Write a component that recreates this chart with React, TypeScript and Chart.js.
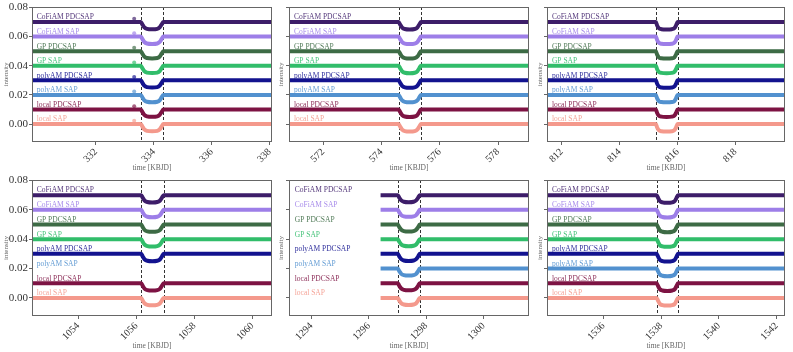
import React, { useEffect, useRef } from 'react';
import { Chart, registerables } from 'chart.js';
Chart.register(...registerables);

const seriesNames = ['local SAP', 'local PDCSAP', 'polyAM SAP', 'polyAM PDCSAP', 'GP SAP', 'GP PDCSAP', 'CoFiAM SAP', 'CoFiAM PDCSAP'];
const seriesOffsets = [0, 0.01, 0.02, 0.03, 0.04, 0.05, 0.06, 0.07];
const seriesColors = ['#f4998c', '#7d1343', '#5291cf', '#13138f', '#31bd6a', '#3d6b45', '#9d7ee8', '#3d1d69'];
const yTicks = [0, 0.02, 0.04, 0.06, 0.08];
const yRange = [-0.0123, 0.0803];

// Panel 1
const p1Range = [329.79, 338.08];
const p1Ticks = [332, 334, 336, 338];
const p1Dashes = [333.55, 334.33];
const p1Time = [329.79, 333.55, 333.6, 333.67, 333.76, 333.94, 334.12, 334.2, 334.27, 334.33, 338.08];
const p1Dip = [0, 0, -0.0016, -0.0037, -0.0047, -0.005, -0.0047, -0.0037, -0.0016, 0, 0];
const p1LabelX = 329.95;
const p1Missing: number[] = [];
const p1OutlierX = 333.32;
const p1OutlierDy = 0.0023;

// Panel 2
const p2Range = [570.83, 579.06];
const p2Ticks = [572, 574, 576, 578];
const p2Dashes = [574.59, 575.35];
const p2Time = [570.83, 574.59, 574.64, 574.71, 574.8, 574.97, 575.14, 575.23, 575.3, 575.35, 579.06];
const p2Dip = [0, 0, -0.0017, -0.0038, -0.0048, -0.0051, -0.0048, -0.0038, -0.0017, 0, 0];
const p2LabelX = 571.0;
const p2Missing: number[] = [];

// Panel 3
const p3Range = [811.49, 819.71];
const p3Ticks = [812, 814, 816, 818];
const p3Dashes = [815.25, 816.0];
const p3Time = [811.49, 815.25, 815.29, 815.35, 815.44, 815.62, 815.8, 815.89, 815.95, 816.0, 819.71];
const p3Dip = [0, 0, -0.0022, -0.0042, -0.0049, -0.0051, -0.0049, -0.0042, -0.0022, 0, 0];
const p3LabelX = 811.66;
const p3Missing: number[] = [];

// Panel 4
const p4Range = [1052.41, 1060.67];
const p4Ticks = [1054, 1056, 1058, 1060];
const p4Dashes = [1056.17, 1056.94];
const p4Time = [1052.41, 1056.17, 1056.22, 1056.29, 1056.38, 1056.55, 1056.72, 1056.81, 1056.88, 1056.94, 1060.67];
const p4Dip = [0, 0, -0.0018, -0.0038, -0.0047, -0.005, -0.0047, -0.0038, -0.0018, 0, 0];
const p4LabelX = 1052.57;
const p4Missing: number[] = [2];

// Panel 5
const p5Range = [1293.22, 1301.58];
const p5Ticks = [1294, 1296, 1298, 1300];
const p5Dashes = [1297.01, 1297.77];
const p5Time = [1296.41, 1297.01, 1297.06, 1297.13, 1297.22, 1297.39, 1297.56, 1297.65, 1297.72, 1297.77, 1301.58];
const p5Dip = [0, 0, -0.0017, -0.0036, -0.0045, -0.0048, -0.0045, -0.0036, -0.0017, 0, 0];
const p5LabelX = 1293.42;
const p5Missing: number[] = [];

// Panel 6
const p6Range = [1534.04, 1542.29];
const p6Ticks = [1536, 1538, 1540, 1542];
const p6Dashes = [1537.84, 1538.58];
const p6Time = [1534.04, 1537.84, 1537.89, 1537.95, 1538.04, 1538.21, 1538.38, 1538.47, 1538.53, 1538.58, 1542.29];
const p6Dip = [0, 0, -0.0019, -0.004, -0.0049, -0.0052, -0.0049, -0.004, -0.0019, 0, 0];
const p6LabelX = 1534.21;
const p6Missing: number[] = [];

type PanelData = {
  range: number[]; ticks: number[]; dashes: number[]; time: number[]; dip: number[];
  labelX: number; missing: number[]; outlierX?: number; outlierDy?: number;
};

const panels: PanelData[] = [
  { range: p1Range, ticks: p1Ticks, dashes: p1Dashes, time: p1Time, dip: p1Dip, labelX: p1LabelX, missing: p1Missing, outlierX: p1OutlierX, outlierDy: p1OutlierDy },
  { range: p2Range, ticks: p2Ticks, dashes: p2Dashes, time: p2Time, dip: p2Dip, labelX: p2LabelX, missing: p2Missing },
  { range: p3Range, ticks: p3Ticks, dashes: p3Dashes, time: p3Time, dip: p3Dip, labelX: p3LabelX, missing: p3Missing },
  { range: p4Range, ticks: p4Ticks, dashes: p4Dashes, time: p4Time, dip: p4Dip, labelX: p4LabelX, missing: p4Missing },
  { range: p5Range, ticks: p5Ticks, dashes: p5Dashes, time: p5Time, dip: p5Dip, labelX: p5LabelX, missing: p5Missing },
  { range: p6Range, ticks: p6Ticks, dashes: p6Dashes, time: p6Time, dip: p6Dip, labelX: p6LabelX, missing: p6Missing },
];

// layout boxes (canvas placement + chart-area margins)
const cols = [
  { L: 0, W: 278, yw: 32, padRight: 6, titlePad: 1.5, showY: true },
  { L: 274, W: 260, yw: 15, padRight: 5, titlePad: 3.2, showY: false },
  { L: 535, W: 258, yw: 12, padRight: 8, titlePad: 0.5, showY: false },
];
const rows = [
  { T: 0, H: 175, padTop: 7, xh: 33, xTitlePad: 2.2 },
  { T: 175, H: 177, padTop: 5, xh: 36, xTitlePad: 1.8 },
];

const SERIF = "'Liberation Serif', 'DejaVu Serif', serif";

function PanelChart({ idx }: { idx: number }) {
  const ref = useRef<HTMLCanvasElement | null>(null);
  const p = panels[idx];
  const col = cols[idx % 3];
  const row = rows[Math.floor(idx / 3)];

  useEffect(() => {
    if (!ref.current) return;
    const datasets: any[] = [];
    seriesNames.forEach((name, k) => {
      if (p.missing.includes(k)) return;
      datasets.push({
        label: name,
        data: p.time.map((t, i) => ({ x: t, y: p.dip[i] + seriesOffsets[k] })),
        borderColor: seriesColors[k],
        borderWidth: 4,
        pointRadius: 0,
        cubicInterpolationMode: 'monotone',
        fill: false,
      });
      if (p.outlierX !== undefined) {
        datasets.push({
          label: name + ' outlier',
          data: [{ x: p.outlierX, y: seriesOffsets[k] + (p.outlierDy || 0) }],
          showLine: false,
          pointStyle: 'circle',
          pointRadius: 2,
          pointBackgroundColor: seriesColors[k] + 'aa',
          pointBorderWidth: 0,
        });
      }
    });

    const decor = {
      id: 'decor',
      beforeDatasetsDraw(chart: any) {
        const { ctx, chartArea, scales } = chart;
        ctx.save();
        ctx.strokeStyle = '#333';
        ctx.lineWidth = 1;
        ctx.setLineDash([3, 2]);
        p.dashes.forEach((d) => {
          const x = Math.round(scales.x.getPixelForValue(d)) + 0.5;
          ctx.beginPath();
          ctx.moveTo(x, chartArea.top);
          ctx.lineTo(x, chartArea.bottom);
          ctx.stroke();
        });
        ctx.restore();
      },
      afterDatasetsDraw(chart: any) {
        const { ctx, scales } = chart;
        ctx.save();
        ctx.font = `7.5px ${SERIF}`;
        ctx.textAlign = 'left';
        ctx.textBaseline = 'alphabetic';
        seriesNames.forEach((name, k) => {
          ctx.fillStyle = seriesColors[k];
          ctx.globalAlpha = 0.9;
          ctx.fillText(name, scales.x.getPixelForValue(p.labelX), scales.y.getPixelForValue(seriesOffsets[k] + 0.0018));
        });
        ctx.restore();
      },
      afterDraw(chart: any) {
        const { ctx, chartArea } = chart;
        ctx.save();
        ctx.strokeStyle = '#666';
        ctx.lineWidth = 1;
        ctx.strokeRect(Math.round(chartArea.left) + 0.5, Math.round(chartArea.top) + 0.5,
          Math.round(chartArea.right - chartArea.left) - 1, Math.round(chartArea.bottom - chartArea.top) - 1);
        ctx.restore();
      },
    };

    const chart = new Chart(ref.current, {
      type: 'line',
      data: { datasets },
      options: {
        animation: false,
        responsive: false,
        devicePixelRatio: 1,
        layout: { padding: { left: 0, right: col.padRight, top: row.padTop, bottom: 0 } },
        plugins: { legend: { display: false }, tooltip: { enabled: false } },
        scales: {
          x: {
            type: 'linear',
            min: p.range[0],
            max: p.range[1],
            afterBuildTicks: (s: any) => { s.ticks = p.ticks.map((v) => ({ value: v })); },
            afterFit: (s: any) => { s.height = row.xh; s.paddingLeft = 0; s.paddingRight = 0; },
            ticks: {
              autoSkip: false,
              minRotation: 45,
              maxRotation: 45,
              padding: 1,
              color: '#333',
              font: { family: SERIF, size: 10 },
              callback: (v: any) => String(v),
            },
            grid: { drawOnChartArea: false, drawTicks: true, tickLength: 3, color: '#666' },
            border: { display: false },
            title: { display: true, text: 'time [KBJD]', color: '#666', font: { family: SERIF, size: 7.5 }, padding: { top: 0, bottom: row.xTitlePad } },
          },
          y: {
            type: 'linear',
            min: yRange[0],
            max: yRange[1],
            afterBuildTicks: (s: any) => { s.ticks = yTicks.map((v) => ({ value: v })); },
            afterFit: (s: any) => { s.width = col.yw; s.paddingTop = 0; s.paddingBottom = 0; },
            ticks: {
              display: col.showY,
              padding: 1,
              color: '#333',
              font: { family: SERIF, size: 11 },
              callback: (v: any) => Number(v).toFixed(2),
            },
            grid: { drawOnChartArea: false, drawTicks: true, tickLength: 3, color: '#666' },
            border: { display: false },
            title: { display: true, text: 'intensity', color: '#666', font: { family: SERIF, size: 7 }, padding: { top: col.titlePad, bottom: 0 } },
          },
        },
      },
      plugins: [decor],
    } as any);
    return () => chart.destroy();
  }, [idx]);

  return (
    <canvas
      ref={ref}
      width={col.W}
      height={row.H}
      style={{ position: 'absolute', left: col.L, top: row.T, width: col.W, height: row.H }}
    />
  );
}

export default function App() {
  return (
    <div style={{ position: 'fixed', left: 0, top: 0, width: 793, height: 352, background: '#fff', overflow: 'hidden' }}>
      {panels.map((_, i) => <PanelChart key={i} idx={i} />)}
    </div>
  );
}
